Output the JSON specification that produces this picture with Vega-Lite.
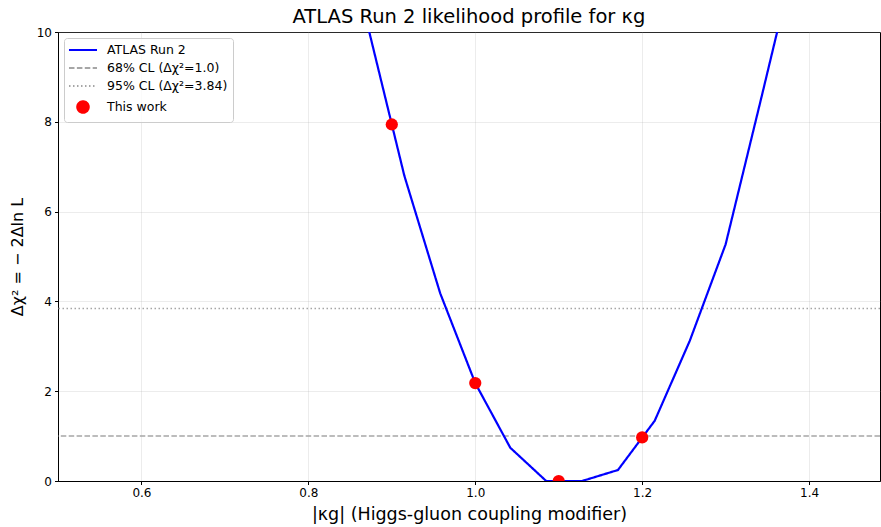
{
  "$schema": "https://vega.github.io/schema/vega-lite/v6.json",
  "width": 822,
  "height": 449,
  "autosize": {"type": "none"},
  "padding": {"left": 58, "top": 32, "right": 1, "bottom": 46},
  "background": "white",
  "title": {"text": "ATLAS Run 2 likelihood profile for κg", "fontSize": 19.5, "fontWeight": "normal", "font": "DejaVu Sans", "color": "black", "offset": -1, "anchor": "middle"},
  "config": {
    "font": "DejaVu Sans",
    "view": {"stroke": "black", "strokeWidth": 1},
    "axis": {
      "domainColor": "black", "tickColor": "black", "tickSize": 3.5, "labelFontSize": 12, "labelColor": "black",
      "titleFontSize": 17.5, "titleFontWeight": "normal", "titleColor": "black", "labelPadding": 3,
      "gridColor": "#b0b0b0", "gridOpacity": 0.3, "gridWidth": 0.8
    },
    "legend": {
      "orient": "top-left", "offset": 6, "title": null, "labelFontSize": 12.5, "labelColor": "black",
      "fillColor": "rgba(255,255,255,0.8)", "strokeColor": "#cccccc", "cornerRadius": 3,
      "padding": 5, "symbolOffset": 7, "labelOffset": 17, "rowPadding": 4, "symbolSize": 133, "symbolStrokeWidth": 2
    }
  },
  "datasets": {
    "curve": [
      {"k": 0.830, "d": 13.5},
      {"k": 0.873, "d": 10.0},
      {"k": 0.915, "d": 6.8},
      {"k": 0.958, "d": 4.18},
      {"k": 1.000, "d": 2.18},
      {"k": 1.042, "d": 0.74},
      {"k": 1.085, "d": 0.0},
      {"k": 1.128, "d": 0.0},
      {"k": 1.171, "d": 0.245},
      {"k": 1.215, "d": 1.34},
      {"k": 1.257, "d": 3.12},
      {"k": 1.300, "d": 5.27},
      {"k": 1.343, "d": 8.55},
      {"k": 1.385, "d": 11.8}
    ],
    "cl": [
      {"y": 1.0, "s": "68% CL (Δχ²=1.0)"},
      {"y": 3.84, "s": "95% CL (Δχ²=3.84)"}
    ],
    "pts": [
      {"k": 0.9, "d": 7.94},
      {"k": 1.0, "d": 2.18},
      {"k": 1.1, "d": 0.0},
      {"k": 1.2, "d": 0.97}
    ]
  },
  "layer": [
    {
      "data": {"name": "cl"},
      "mark": {"type": "rule", "strokeWidth": 1.5},
      "encoding": {
        "y": {"field": "y", "type": "quantitative", "scale": {"domain": [0, 10], "nice": false, "zero": false},
              "axis": {"values": [0, 2, 4, 6, 8, 10], "format": "d", "title": "Δχ² = − 2Δln L", "titleFontSize": 16, "titlePadding": 11, "grid": true}},
        "color": {"field": "s", "type": "nominal",
                  "scale": {"domain": ["ATLAS Run 2", "68% CL (Δχ²=1.0)", "95% CL (Δχ²=3.84)", "This work"],
                            "range": ["#0000ff", "#a6a6a6", "#a6a6a6", "#ff0000"]}},
        "strokeDash": {"field": "s", "type": "nominal",
                  "scale": {"domain": ["ATLAS Run 2", "68% CL (Δχ²=1.0)", "95% CL (Δχ²=3.84)", "This work"],
                            "range": [[1, 0], [5.5, 2.4], [1.5, 2.5], [1, 0]]}}
      }
    },
    {
      "data": {"name": "curve"},
      "transform": [{"calculate": "'ATLAS Run 2'", "as": "s"}],
      "mark": {"type": "line", "strokeWidth": 2.2, "clip": true},
      "encoding": {
        "x": {"field": "k", "type": "quantitative", "scale": {"domain": [0.5, 1.485], "nice": false, "zero": false},
              "axis": {"values": [0.6, 0.8, 1.0, 1.2, 1.4], "format": ".1f", "title": "|κg| (Higgs-gluon coupling modifier)", "titlePadding": 7, "grid": true}},
        "y": {"field": "d", "type": "quantitative"},
        "color": {"field": "s", "type": "nominal"},
        "strokeDash": {"field": "s", "type": "nominal"}
      }
    },
    {
      "data": {"name": "pts"},
      "transform": [{"calculate": "'This work'", "as": "s"}],
      "mark": {"type": "point", "filled": true, "opacity": 1, "size": 150, "clip": true},
      "encoding": {
        "x": {"field": "k", "type": "quantitative"},
        "y": {"field": "d", "type": "quantitative"},
        "color": {"field": "s", "type": "nominal"},
        "shape": {"field": "s", "type": "nominal",
                  "scale": {"domain": ["ATLAS Run 2", "68% CL (Δχ²=1.0)", "95% CL (Δχ²=3.84)", "This work"],
                            "range": ["M-2.43,0H2.43", "M-2.43,0H2.43", "M-2.43,0H2.43", "circle"]}}
      }
    }
  ],
  "resolve": {"scale": {"color": "shared", "strokeDash": "shared", "shape": "shared"}},
  "encoding": {}
}
